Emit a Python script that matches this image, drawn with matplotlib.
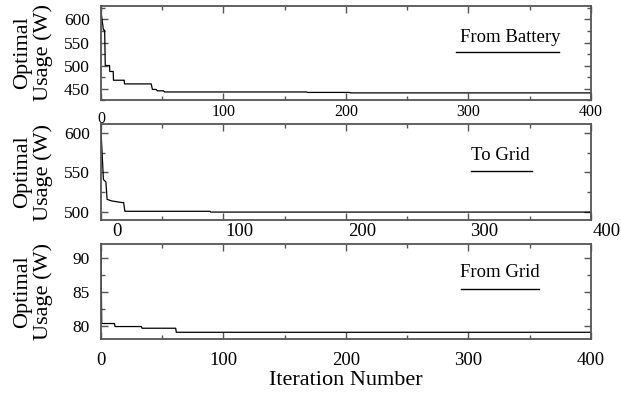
# three-panel convergence plot of optimal usage per iteration
import matplotlib
matplotlib.use("Agg")
import matplotlib.pyplot as plt
import matplotlib.transforms as mtransforms
from matplotlib.lines import Line2D
from matplotlib.ticker import MultipleLocator

plt.rcParams['font.family'] = ['Liberation Serif', 'DejaVu Serif']

# iteration / value pairs
batt_x = [0, 2, 3, 3.5, 7, 7.2, 10, 10.2, 19, 19.2, 41, 42, 45, 46, 51, 52, 168, 168.5, 203, 203.5, 400]
batt_y = [618, 577, 577, 500, 500, 487, 487, 468, 468, 460, 460, 448, 448, 445, 445, 442.5, 442.5, 441.5, 441.5, 440.5, 440.5]

grid_to_x = [0, 2, 4, 5, 9, 17, 18.5, 19.5, 89, 89.5, 400]
grid_to_y = [603, 541, 538, 516, 514, 512, 512, 501, 501, 500, 500]

grid_from_x = [0, 0.6, 1, 11, 11.5, 33, 33.5, 61, 61.5, 400]
grid_from_y = [91.2, 80.4, 80.3, 80.3, 79.85, 79.85, 79.6, 79.6, 79.0, 79.0]

labels = ["From Battery", "To Grid", "From Grid"]
ylims = [(425, 630), (490, 611), (78, 92.1)]
yminor = [25, 25, 2.5]
ymajor = [50, 50, 5]

fig = plt.figure(figsize=(6.21, 3.98), dpi=100)

# axes boxes in figure fraction
boxes = [[0.1626, 0.7487, 0.789, 0.237],
         [0.1626, 0.4472, 0.789, 0.2412],
         [0.1626, 0.1482, 0.789, 0.2387]]
# legend text / key positions in axes fraction
leg_pos = [(0.835, 0.66, 0.725, 0.935, 0.505),
           (0.815, 0.675, 0.755, 0.88, 0.515),
           (0.815, 0.695, 0.735, 0.895, 0.53)]
series = [(batt_x, batt_y), (grid_to_x, grid_to_y), (grid_from_x, grid_from_y)]
spine_col = '#555555'

for i in range(3):
    ax = fig.add_axes(boxes[i])
    x, y = series[i]
    ax.plot(x, y, color='black', linewidth=0.9)
    ax.set_xlim(0, 400)
    ax.set_ylim(*ylims[i])
    ax.xaxis.set_major_locator(MultipleLocator(100))
    ax.xaxis.set_minor_locator(MultipleLocator(50))
    ax.yaxis.set_major_locator(MultipleLocator(ymajor[i]))
    ax.yaxis.set_minor_locator(MultipleLocator(yminor[i]))
    for s in ax.spines.values():
        s.set_color(spine_col)
        s.set_linewidth(1.3)
    ax.tick_params(which='both', direction='in', top=True, right=True,
                   color=spine_col, width=1.0)
    ax.tick_params(which='major', length=5)
    ax.tick_params(which='minor', length=3)
    ax.tick_params(axis='y', labelsize=12.5, pad=8)

    if i == 0:
        ax.tick_params(axis='x', labelsize=11.5, pad=3)
    elif i == 1:
        ax.tick_params(axis='x', labelsize=13.5, pad=2)
    else:
        ax.tick_params(axis='x', labelsize=13.5, pad=9)

    ax.text(-0.139, 0.5, "Optimal\nUsage (W)", transform=ax.transAxes,
            rotation=90, ha='center', va='center', fontsize=16, linespacing=1.1)

    tx, ty, lx0, lx1, ly = leg_pos[i]
    ax.text(tx, ty, labels[i], transform=ax.transAxes, ha='center', va='center',
            fontsize=13.5)
    ax.add_line(Line2D([lx0, lx1], [ly, ly], transform=ax.transAxes,
                       color='black', linewidth=1.0))

    fig.canvas.draw()
    if i == 1:
        # tick labels of the middle panel sit shifted right of their ticks
        off = mtransforms.ScaledTranslation(16 / 100, 0, fig.dpi_scale_trans)
        for lab in ax.get_xticklabels():
            lab.set_transform(lab.get_transform() + off)
    if i == 0:
        # the "0" of the top panel sits a little lower than the others
        off = mtransforms.ScaledTranslation(0, -7 / 100, fig.dpi_scale_trans)
        for lab in ax.get_xticklabels():
            if lab.get_text() == '0':
                lab.set_transform(lab.get_transform() + off)
    if i == 2:
        ax.set_xlabel("Iteration Number", fontsize=16, labelpad=2)

fig.savefig("out.png", dpi=100)
